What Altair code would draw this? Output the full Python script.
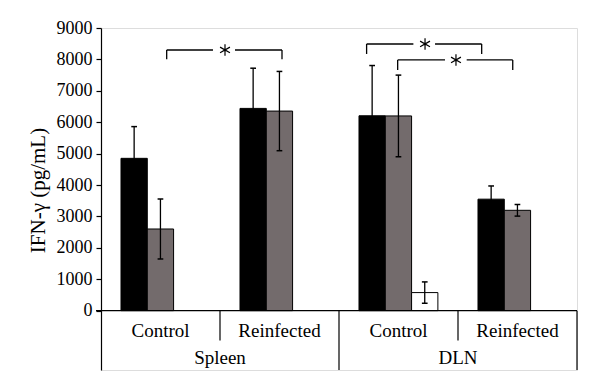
import altair as alt
import pandas as pd

# ---- data ----
groups = ["Control", "Reinfected", "Control", "Reinfected"]
regions = ["Spleen", "DLN"]
series = ["s1", "s2", "s3"]
series_colors = ["#000000", "#736b6c", "#ffffff"]

# values per group (Spleen Control, Spleen Reinfected, DLN Control, DLN Reinfected)
black_vals = [4850, 6440, 6205, 3550]
black_err = [1010, 1280, 1600, 420]
gray_vals = [2600, 6355, 6200, 3195]
gray_err = [955, 1262, 1300, 185]
white_vals = [0, 0, 575, 0]
white_err = [0, 0, 340, 0]

# significance brackets: left, right, top, tick bottom, gap start, gap end
br_left = [0.552, 2.232, 2.493]
br_right = [1.521, 3.199, 3.460]
br_top = [8300, 8491, 7982]
br_bottom = [8004, 8173, 7663]
br_gap_a = [0.941, 2.625, 2.891]
br_gap_b = [1.126, 2.807, 3.073]
br_star = [1.042, 2.723, 2.983]

y_ticks = list(range(0, 9001, 1000))
FONT = "Liberation Serif"
ASTERISK = "M0,-1L0,1M-0.866,-0.5L0.866,0.5M-0.866,0.5L0.866,-0.5"

# ---- build tables ----
bar_w = 0.221
pad = 0.168
rows = []
for gi in range(4):
    for si, (vals, errs) in enumerate([(black_vals, black_err), (gray_vals, gray_err), (white_vals, white_err)]):
        x0 = gi + pad + si * bar_w
        rows.append(dict(series=series[si], x0=x0, x1=x0 + bar_w, xc=x0 + bar_w / 2,
                         v=vals[gi], lo=vals[gi] - errs[gi], hi=vals[gi] + errs[gi],
                         cl=x0 + bar_w / 2 - 0.024, cr=x0 + bar_w / 2 + 0.024, err=errs[gi]))
bars = pd.DataFrame(rows)
bars_drawn = bars[bars.v > 0]
errs_df = bars[bars.err > 0]
caps = pd.concat([errs_df.assign(cy=errs_df.lo), errs_df.assign(cy=errs_df.hi)])

xs = alt.Scale(domain=[0, 4], nice=False, zero=False)
ys = alt.Scale(domain=[-1890, 9000], nice=False, zero=False)

y_axis = alt.Axis(
    values=y_ticks, format="d", labelOverlap=False, labelFlush=False,
    title="IFN-γ (pg/mL)", grid=False, domainColor="#000000",
    domainWidth=1.2, tickColor="#000000", tickSize=5, tickWidth=1.2,
    labelFont=FONT, labelFontSize=18, labelColor="#000000", labelPadding=4,
    titleFont=FONT, titleFontSize=21, titleFontWeight="normal", titleColor="#000000",
    titlePadding=8, titleY=162)


def X(f):
    return alt.X(f, scale=xs, axis=None)


def Y(f):
    return alt.Y(f, scale=ys, axis=y_axis)


bar_layer = alt.Chart(bars_drawn).mark_rect(stroke="#000000", strokeWidth=1).encode(
    x=X("x0:Q"),
    x2="x1:Q",
    y=Y("v:Q"),
    y2=alt.Y2(datum=0),
    color=alt.Color("series:N", scale=alt.Scale(domain=series, range=series_colors), legend=None),
)

err_layer = alt.Chart(errs_df).mark_rule(color="#000000", strokeWidth=1.3).encode(
    x=X("xc:Q"), y=Y("lo:Q"), y2="hi:Q")
cap_layer = alt.Chart(caps).mark_rule(color="#000000", strokeWidth=1.5).encode(
    x=X("cl:Q"), x2="cr:Q", y=Y("cy:Q"))

# x axis line and category separators
axis_line = alt.Chart(pd.DataFrame({"a": [-0.042], "b": [4.0], "y": [0]})).mark_rule(
    color="#000000", strokeWidth=1.2).encode(x=X("a:Q"), x2="b:Q", y=Y("y:Q"))

sep_x = [1, 2, 3, 4]
sep_lo = [-950, -1890, -950, -1890]
seps = alt.Chart(pd.DataFrame({"x": sep_x, "lo": sep_lo, "hi": [0] * 4})).mark_rule(
    color="#000000", strokeWidth=1.2).encode(x=X("x:Q"), y=Y("lo:Q"), y2="hi:Q")

sub_labels = alt.Chart(pd.DataFrame({"x": [0.5, 1.5, 2.5, 3.5], "t": groups, "y": [-830] * 4})).mark_text(
    font=FONT, fontSize=19, color="#000000", baseline="alphabetic", align="center").encode(
    x=X("x:Q"), y=Y("y:Q"), text="t:N")

reg_labels = alt.Chart(pd.DataFrame({"x": [1.0, 3.0], "t": regions, "y": [-1697] * 2})).mark_text(
    font=FONT, fontSize=19, color="#000000", baseline="alphabetic", align="center").encode(
    x=X("x:Q"), y=Y("y:Q"), text="t:N")

# brackets
seg_rows = []
for i in range(3):
    seg_rows.append(dict(a=br_left[i], b=br_gap_a[i], y=br_top[i]))
    seg_rows.append(dict(a=br_gap_b[i], b=br_right[i], y=br_top[i]))
br_h = alt.Chart(pd.DataFrame(seg_rows)).mark_rule(color="#000000", strokeWidth=1.3).encode(
    x=X("a:Q"), x2="b:Q", y=Y("y:Q"))
tick_rows = []
for i in range(3):
    tick_rows.append(dict(x=br_left[i], lo=br_bottom[i], hi=br_top[i]))
    tick_rows.append(dict(x=br_right[i], lo=br_bottom[i], hi=br_top[i]))
br_v = alt.Chart(pd.DataFrame(tick_rows)).mark_rule(color="#000000", strokeWidth=1.3).encode(
    x=X("x:Q"), y=Y("lo:Q"), y2="hi:Q")
stars = alt.Chart(pd.DataFrame({"x": br_star, "y": br_top})).mark_point(
    shape=ASTERISK, size=130, filled=False, stroke="#000000", strokeWidth=1.2, opacity=1).encode(
    x=X("x:Q"), y=Y("y:Q"))

chart = alt.layer(bar_layer, err_layer, cap_layer, axis_line, seps, sub_labels, reg_labels,
                  br_h, br_v, stars).properties(
    width=476, height=342,
    padding={"left": 93, "top": 20, "right": 7, "bottom": 6},
    autosize="none",
).configure_view(strokeOpacity=0, strokeWidth=0).configure(background="#ffffff")

chart.save("out.html", embed_options={"renderer": "svg", "actions": False})
